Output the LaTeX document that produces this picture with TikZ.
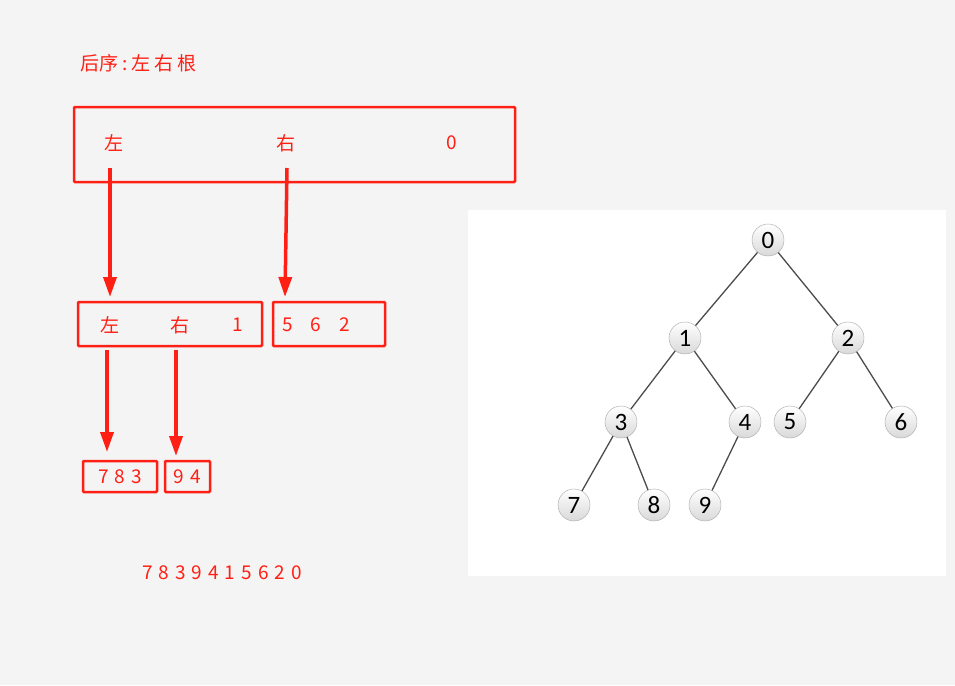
\documentclass[tikz,border=0pt]{standalone}
\usepackage{fontspec}
\setmainfont{Noto Sans CJK SC}
\newfontfamily\tfont{Carlito}
\usetikzlibrary{arrows.meta}
\definecolor{rd}{HTML}{FF2015}
\definecolor{bg}{HTML}{F4F4F4}
\newcommand{\dgsp}{\hspace{6pt}}
\tikzset{
 rbox/.style={draw=rd,line width=2.5pt,rounded corners=1pt},
 rtxt/.style={text=rd,font=\fontsize{19}{21}\selectfont,inner sep=0},
 rarr/.style={rd,line width=3.5pt,-{Triangle[length=20pt,width=13pt]}},
 tn/.style={circle,draw=gray!70,minimum size=32pt,inner sep=0,top color=white,bottom color=gray!30,font=\fontsize{25}{26}\selectfont\tfont},
 te/.style={draw=black!70,line width=1.3pt}
}
\begin{document}
\begin{tikzpicture}[x=1pt,y=-1pt]
\useasboundingbox (0,0) rectangle (955,685);
\fill[bg] (0,0) rectangle (955,685);
\fill[white] (468,210) rectangle (946,576);
\node[rtxt,anchor=west] (title) at (80,63) {后序\hspace{4pt}:\hspace{4pt}左\hspace{4pt}右\hspace{4pt}根};
\node[rbox,minimum width=441pt,minimum height=75pt] (b1) at (294.5,144.5) {};
\node[rtxt] (l1) at (114,143) {左};
\node[rtxt] (r1) at (286,143) {右};
\node[rtxt] (z1) at (452,143) {0};
\node[rbox,minimum width=184pt,minimum height=44pt] (b2) at (170,324) {};
\node[rtxt] (l2) at (110,325) {左};
\node[rtxt] (r2) at (180,325) {右};
\node[rtxt] (o2) at (238,325) {1};
\node[rbox,minimum width=112pt,minimum height=44pt] (b3) at (329,324) {};
\node[rtxt] (t3) at (316,325) {5\hspace{18pt}6\hspace{18pt}2};
\node[rbox,minimum width=74pt,minimum height=31pt] (b4) at (120,476.5) {};
\node[rtxt] (t4) at (120,477) {7\dgsp8\dgsp3};
\node[rbox,minimum width=45pt,minimum height=31pt] (b5) at (187.5,476.5) {};
\node[rtxt] (t5) at (187.5,477) {9\dgsp4};
\node[rtxt] (res) at (222,573) {7\dgsp8\dgsp3\dgsp9\dgsp4\dgsp1\dgsp5\dgsp6\dgsp2\dgsp0};
\coordinate (a1) at (110,168); \coordinate (a1e) at (110,297);
\coordinate (a2) at (287,168); \coordinate (a2e) at (285,297);
\coordinate (a3) at (107,350); \coordinate (a3e) at (107,452);
\coordinate (a4) at (176,350); \coordinate (a4e) at (176,456);
\draw[rarr] (a1) -- (a1e);
\draw[rarr] (a2) -- (a2e);
\draw[rarr] (a3) -- (a3e);
\draw[rarr] (a4) -- (a4e);
\node[tn] (n0) at (768,240) {0};
\node[tn] (n1) at (685,338) {1};
\node[tn] (n2) at (848,338) {2};
\node[tn] (n3) at (621,422) {3};
\node[tn] (n4) at (745,422) {4};
\node[tn] (n5) at (790,422) {5};
\node[tn] (n6) at (901,422) {6};
\node[tn] (n7) at (574,505) {7};
\node[tn] (n8) at (654,505) {8};
\node[tn] (n9) at (705,505) {9};
\foreach \a/\b in {n0/n1,n0/n2,n1/n3,n1/n4,n2/n5,n2/n6,n3/n7,n3/n8,n4/n9}
  \draw[te] (\a) -- (\b);
\end{tikzpicture}
\end{document}
